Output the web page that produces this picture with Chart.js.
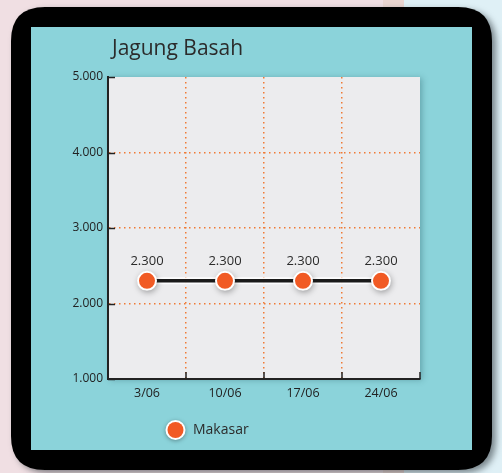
<!DOCTYPE html>
<html>
<head>
<meta charset="utf-8">
<script src="https://cdn.jsdelivr.net/npm/chart.js@4.4.1/dist/chart.umd.min.js"></script>
<style>
  html, body { margin: 0; padding: 0; background: #f0dfe3; }
  #wrap { width: 502px; height: 473px; position: relative; }
  canvas { display: block; }
</style>
</head>
<body>
<div id="wrap"><canvas id="chart" width="502" height="473"></canvas></div>
<script>
// Weekly price of fresh corn in Makassar
const chartTitle = 'Jagung Basah';
const categories = ['3/06', '10/06', '17/06', '24/06'];
const seriesName = 'Makasar';
const makasarPrices = [2300, 2300, 2300, 2300];
const yTickValues = [1000, 2000, 3000, 4000, 5000];

const ORANGE = '#f15a24';
const GRID_ORANGE = '#f07a35';
const TEAL = '#8bd3da';
const PANEL = '#ececee';
const INK = '#222222';
const FONT = '"Open Sans", "Noto Sans", sans-serif';

// thousands separator as a dot: 2300 -> "2.300"
function fmt(v) {
  return String(Math.round(v)).replace(/\B(?=(\d{3})+(?!\d))/g, '.');
}

function roundRect(ctx, x, y, w, h, r) {
  ctx.beginPath();
  ctx.moveTo(x + r, y);
  ctx.lineTo(x + w - r, y);
  ctx.quadraticCurveTo(x + w, y, x + w, y + r);
  ctx.lineTo(x + w, y + h - r);
  ctx.quadraticCurveTo(x + w, y + h, x + w - r, y + h);
  ctx.lineTo(x + r, y + h);
  ctx.quadraticCurveTo(x, y + h, x, y + h - r);
  ctx.lineTo(x, y + r);
  ctx.quadraticCurveTo(x, y, x + r, y);
  ctx.closePath();
}

// page background, black frame, teal card, plot panel, title and legend
const cardPlugin = {
  id: 'card',
  beforeDraw(chart) {
    const ctx = chart.ctx;
    const a = chart.chartArea;
    ctx.save();
    ctx.fillStyle = '#f0dfe3';
    ctx.fillRect(0, 0, 502, 473);
    ctx.fillStyle = '#ead5d1';
    ctx.fillRect(383, 0, 21, 473);
    ctx.fillStyle = '#dff0f6';
    ctx.fillRect(404, 0, 98, 473);

    ctx.shadowColor = 'rgba(40,50,55,0.55)';
    ctx.shadowBlur = 6;
    ctx.shadowOffsetX = 4;
    ctx.shadowOffsetY = 3;
    ctx.fillStyle = '#000';
    roundRect(ctx, 11, 7, 481, 463, 34);
    ctx.fill();
    ctx.shadowColor = 'transparent';

    ctx.fillStyle = TEAL;
    ctx.fillRect(31, 27, 441, 423);

    ctx.shadowColor = 'rgba(30,80,90,0.35)';
    ctx.shadowBlur = 6;
    ctx.shadowOffsetX = 2;
    ctx.shadowOffsetY = 1;
    ctx.fillStyle = PANEL;
    ctx.fillRect(a.left, a.top, a.right - a.left, a.bottom - a.top);
    ctx.restore();

    // title
    ctx.save();
    ctx.fillStyle = '#2b2b2b';
    ctx.font = '21px ' + FONT;
    ctx.textBaseline = 'alphabetic';
    ctx.textAlign = 'left';
    ctx.fillText(chartTitle, 112, 55);
    ctx.restore();

    // legend
    const ds = chart.data.datasets[0];
    ctx.save();
    ctx.shadowColor = 'rgba(0,0,0,0.35)';
    ctx.shadowBlur = 4;
    ctx.shadowOffsetY = 1;
    ctx.beginPath();
    ctx.arc(175.5, 430, 10, 0, Math.PI * 2);
    ctx.fillStyle = '#ffffff';
    ctx.fill();
    ctx.shadowColor = 'transparent';
    ctx.beginPath();
    ctx.arc(175.5, 430, 8, 0, Math.PI * 2);
    ctx.fillStyle = ds.pointBackgroundColor;
    ctx.fill();
    ctx.fillStyle = '#2b2b2b';
    ctx.font = '14px ' + FONT;
    ctx.textBaseline = 'middle';
    ctx.fillText(ds.label, 193, 430.5);
    ctx.restore();
  },
  // inward tick marks on both axes
  afterDraw(chart) {
    const ctx = chart.ctx;
    const a = chart.chartArea;
    const x = chart.scales.x;
    const y = chart.scales.y;
    ctx.save();
    ctx.strokeStyle = INK;
    ctx.lineWidth = 1.5;
    y.ticks.forEach(t => {
      const py = Math.round(y.getPixelForValue(t.value)) + 0.5;
      ctx.beginPath();
      ctx.moveTo(a.left, py);
      ctx.lineTo(a.left + 7, py);
      ctx.stroke();
    });
    const half = (x.getPixelForValue(1) - x.getPixelForValue(0)) / 2;
    for (let i = 0; i <= categories.length; i++) {
      const px = Math.round(x.getPixelForValue(i) - half);
      ctx.beginPath();
      ctx.moveTo(px, a.bottom);
      ctx.lineTo(px, a.bottom - 7);
      ctx.stroke();
    }
    ctx.restore();
  }
};

// white halo under the line, soft shadow under the markers, value labels
const seriesPlugin = {
  id: 'seriesDecor',
  beforeDatasetDraw(chart, args) {
    const ctx = chart.ctx;
    const pts = args.meta.data;
    ctx.save();
    ctx.strokeStyle = 'rgba(255,255,255,0.9)';
    ctx.lineWidth = 7;
    ctx.beginPath();
    pts.forEach((p, i) => { if (i === 0) ctx.moveTo(p.x, p.y); else ctx.lineTo(p.x, p.y); });
    ctx.stroke();
    ctx.shadowColor = 'rgba(0,0,0,0.45)';
    ctx.shadowBlur = 6;
    ctx.shadowOffsetX = 1;
    ctx.shadowOffsetY = 2;
    ctx.fillStyle = 'rgba(90,90,90,0.8)';
    pts.forEach(p => {
      ctx.beginPath();
      ctx.arc(p.x, p.y, 9.5, 0, Math.PI * 2);
      ctx.fill();
    });
    ctx.restore();
  },
  afterDatasetsDraw(chart) {
    const ctx = chart.ctx;
    const meta = chart.getDatasetMeta(0);
    const values = chart.data.datasets[0].data;
    ctx.save();
    ctx.fillStyle = '#2b2b2b';
    ctx.font = '13px ' + FONT;
    ctx.textAlign = 'center';
    ctx.textBaseline = 'middle';
    meta.data.forEach((p, i) => {
      ctx.fillText(fmt(values[i]), p.x, p.y - 20);
    });
    ctx.restore();
  }
};

const edgeTransparent = (ctx) => {
  if (ctx.index === undefined || ctx.index === 0) return 'rgba(0,0,0,0)';
  return GRID_ORANGE;
};

new Chart(document.getElementById('chart'), {
  type: 'line',
  data: {
    labels: categories,
    datasets: [{
      label: seriesName,
      data: makasarPrices,
      borderColor: '#1a1a1a',
      borderWidth: 3.5,
      pointRadius: 9,
      pointHoverRadius: 9,
      pointBackgroundColor: ORANGE,
      pointBorderColor: '#ffffff',
      pointBorderWidth: 2,
      tension: 0,
      fill: false
    }]
  },
  options: {
    responsive: false,
    devicePixelRatio: 1,
    animation: false,
    events: [],
    layout: { padding: { left: 48, top: 77, right: 82, bottom: 54 } },
    plugins: {
      legend: { display: false },
      title: { display: false },
      tooltip: { enabled: false }
    },
    scales: {
      x: {
        type: 'category',
        offset: true,
        grid: {
          offset: true,
          drawTicks: false,
          color: edgeTransparent,
          lineWidth: 1.5
        },
        border: { display: true, color: INK, width: 2, dash: [1.5, 3.5] },
        ticks: {
          color: INK,
          font: { family: FONT, size: 12.5 },
          padding: 7,
          maxRotation: 0
        },
        afterFit(scale) { scale.height = 40; }
      },
      y: {
        min: 1000,
        max: 5000,
        afterBuildTicks(scale) { scale.ticks = yTickValues.map(v => ({ value: v })); },
        grid: {
          drawTicks: false,
          lineWidth: 1.5,
          color: (ctx) => {
            const v = ctx.tick ? ctx.tick.value : null;
            return (v === 1000 || v === 5000 || v === null) ? 'rgba(0,0,0,0)' : GRID_ORANGE;
          }
        },
        border: { display: true, color: INK, width: 2, dash: [1.5, 3.5] },
        ticks: {
          color: INK,
          font: { family: FONT, size: 12 },
          padding: 5,
          callback: (v) => fmt(v)
        },
        afterFit(scale) { scale.width = 60; }
      }
    }
  },
  plugins: [cardPlugin, seriesPlugin]
});
</script>
</body>
</html>
